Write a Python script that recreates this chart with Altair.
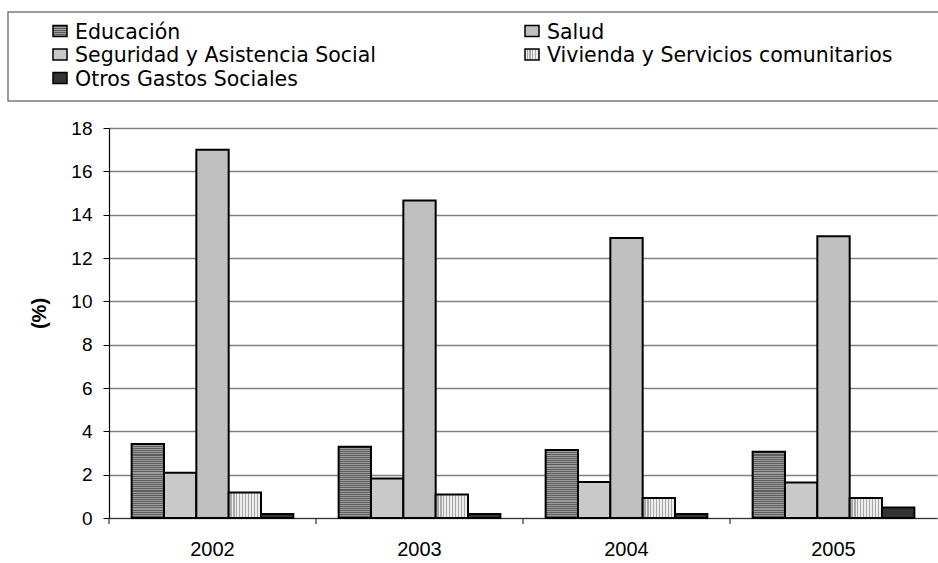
import altair as alt
import pandas as pd

# Gasto social por función (%), 2002-2005
years = ["2002", "2003", "2004", "2005"]
educacion = [3.42, 3.29, 3.14, 3.06]
seguridad = [2.09, 1.82, 1.66, 1.64]
salud = [17.0, 14.65, 12.92, 13.0]
vivienda = [1.18, 1.09, 0.92, 0.92]
otros = [0.18, 0.18, 0.18, 0.48]

S_EDU = "Educación"
S_SAL = "Salud"
S_SEG = "Seguridad y Asistencia Social"
S_VIV = "Vivienda y Servicios comunitarios"
S_OTR = "Otros Gastos Sociales"

series_values = {
    S_EDU: educacion,
    S_SEG: seguridad,
    S_SAL: salud,
    S_VIV: vivienda,
    S_OTR: otros,
}
bar_order = [S_EDU, S_SEG, S_SAL, S_VIV, S_OTR]
legend_order = [S_EDU, S_SAL, S_SEG, S_VIV, S_OTR]

rows = []
for s in bar_order:
    for y, v in zip(years, series_values[s]):
        rows.append({"year": y, "series": s, "value": v})
df = pd.DataFrame(rows)

W, H = 828, 390


def stripes(n, c1, c2, frac, vertical_axis):
    """Linear gradient with hard stops, used as a striped fill."""
    stops = []
    for i in range(n):
        a = i / n
        b = (i + frac) / n
        c = (i + 1) / n
        stops += [
            {"offset": round(a, 5), "color": c1},
            {"offset": round(b, 5), "color": c1},
            {"offset": round(b, 5), "color": c2},
            {"offset": round(min(c, 1), 5), "color": c2},
        ]
    if vertical_axis:
        return {"gradient": "linear", "x1": 0, "y1": 0, "x2": 0, "y2": 1, "stops": stops}
    return {"gradient": "linear", "x1": 0, "y1": 0, "x2": 1, "y2": 0, "stops": stops}


bar_fill = {
    S_EDU: stripes(35, "#5e5e5e", "#9c9c9c", 0.5, True),
    S_SEG: "#c9c9c9",
    S_SAL: "#c0c0c0",
    S_VIV: stripes(11, "#ededed", "#a8a8a8", 0.62, False),
    S_OTR: "#333333",
}
swatch_fill = {
    S_EDU: stripes(5, "#5e5e5e", "#9c9c9c", 0.5, True),
    S_SEG: "#c9c9c9",
    S_SAL: "#c0c0c0",
    S_VIV: stripes(5, "#ededed", "#a8a8a8", 0.6, False),
    S_OTR: "#333333",
}

x_scale = alt.Scale(paddingInner=0, paddingOuter=0)
x_axis = alt.Axis(
    title=None, ticks=False, labelAngle=0, labelFont="Liberation Sans",
    labelFontSize=20, labelColor="black", labelPadding=21,
    domainColor="#333333", domainWidth=1.2, grid=False,
)
y_scale = alt.Scale(domain=[0, 18], nice=False)
y_axis = alt.Axis(
    values=list(range(0, 19, 2)), title="(%)", titleFont="Liberation Sans",
    titleFontSize=20, titleFontWeight="bold", titleColor="black",
    titleX=-70, titleY=185, titleBaseline="middle", titleAlign="center",
    labelFont="Liberation Sans", labelFontSize=19, labelColor="black",
    labelPadding=11, tickSize=6, tickColor="black", domainColor="black",
    domainWidth=1.2, grid=True, gridColor="#808080", gridWidth=1.3,
)
xoff_scale = alt.Scale(domain=bar_order, paddingInner=0, paddingOuter=0.7)

layers = []

# legend frame
frame = alt.Chart(alt.Data(values=[{"k": 1}])).mark_rect(
    fill="white", stroke="#7a7a7a", strokeWidth=1.5
).encode(
    x=alt.value(-101), x2=alt.value(W + 20),
    y=alt.value(-116), y2=alt.value(-27),
)
layers.append(frame)

# category ticks at the band boundaries
ticks = alt.Chart(alt.Data(values=[{"year": y} for y in years])).mark_rule(
    color="#333333", strokeWidth=1.2
).encode(
    x=alt.X("year:N", bandPosition=0, scale=x_scale, axis=x_axis),
    y=alt.value(H), y2=alt.value(H + 6),
)
layers.append(ticks)

for s in bar_order:
    bars = alt.Chart(df).transform_filter(
        alt.datum.series == s
    ).mark_bar(fill=bar_fill[s], stroke="black", strokeWidth=2).encode(
        x=alt.X("year:N", scale=x_scale, axis=x_axis),
        xOffset=alt.XOffset("series:N", scale=xoff_scale),
        y=alt.Y("value:Q", scale=y_scale, axis=y_axis),
    )
    layers.append(bars)

# legend entries, two columns filled row by row
col_x = [-56, 416]
row_c = [-97, -73.5, -50]
for i, s in enumerate(legend_order):
    cx = col_x[i % 2]
    cy = row_c[i // 2]
    entry = alt.Data(values=[{"label": s}])
    sw = alt.Chart(entry).mark_rect(
        fill=swatch_fill[s], stroke="black", strokeWidth=1.5
    ).encode(
        x=alt.value(cx), x2=alt.value(cx + 14),
        y=alt.value(cy - 5.5), y2=alt.value(cy + 5.5),
    )
    tx = alt.Chart(entry).mark_text(
        align="left", baseline="alphabetic", font="DejaVu Sans",
        fontSize=20.5, color="black",
    ).encode(
        x=alt.value(cx + 22), y=alt.value(cy + 7.5), text="label:N",
    )
    layers += [sw, tx]

chart = alt.layer(*layers).properties(
    width=W, height=H,
    autosize=alt.AutoSizeParams(type="none"),
    padding={"left": 109, "top": 128, "right": 1, "bottom": 45},
    background="white",
).configure_view(stroke=None)

chart.save("out.html", embed_options={"renderer": "svg", "actions": False})
